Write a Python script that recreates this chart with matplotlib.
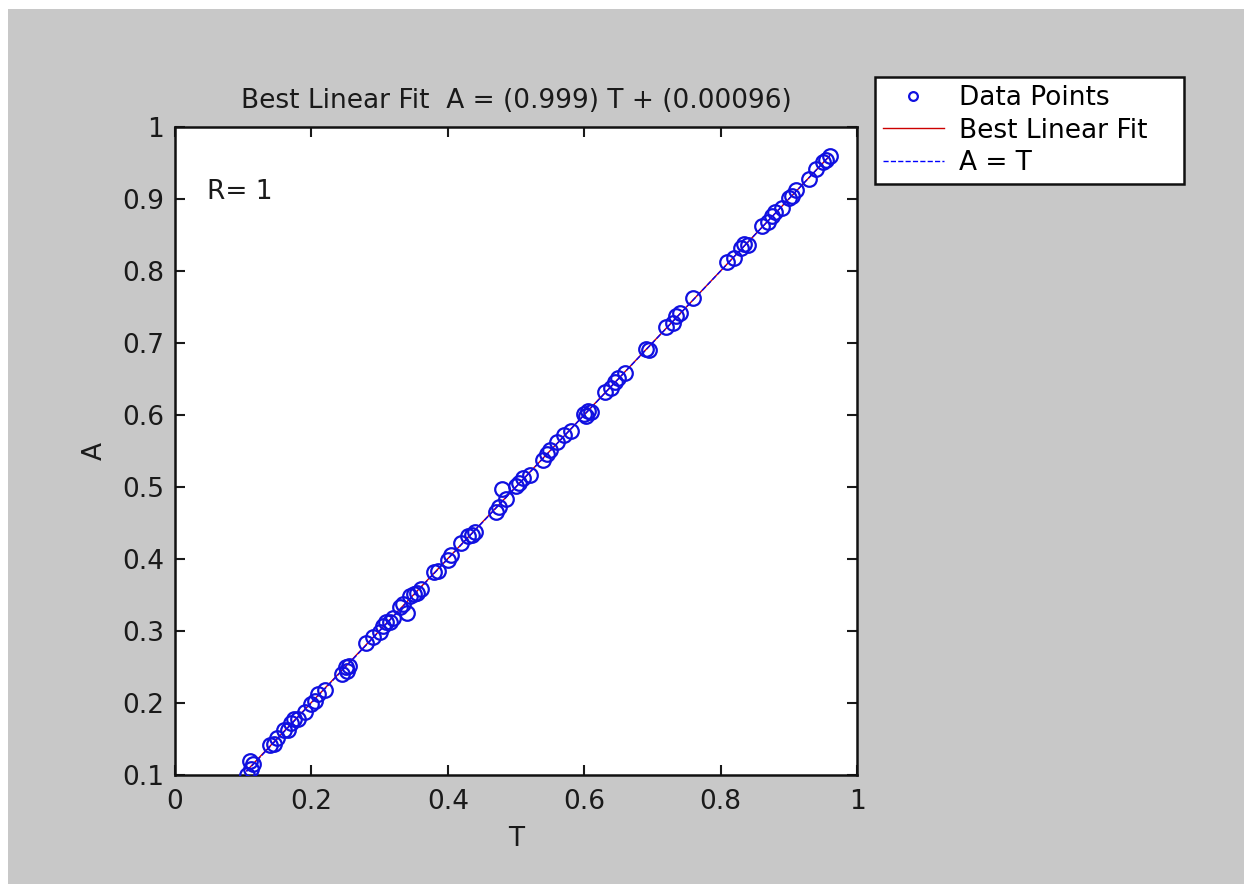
import matplotlib
matplotlib.use("Agg")
import matplotlib.pyplot as plt
from matplotlib.patches import Rectangle
import numpy as np

plt.rcParams['font.family'] = ['DejaVu Sans']

T = [0.105, 0.110, 0.112, 0.115, 0.140, 0.145, 0.150, 0.160, 0.165, 0.170,
     0.175, 0.180, 0.190, 0.200, 0.205, 0.210, 0.220, 0.245, 0.250, 0.252,
     0.255, 0.280, 0.290, 0.300, 0.305, 0.310, 0.315, 0.320, 0.330, 0.335,
     0.340, 0.345, 0.350, 0.355, 0.360, 0.380, 0.385, 0.400, 0.405, 0.420,
     0.430, 0.435, 0.440, 0.470, 0.475, 0.480, 0.485, 0.500, 0.505, 0.510,
     0.520, 0.540, 0.545, 0.550, 0.560, 0.570, 0.580, 0.600, 0.602, 0.605,
     0.610, 0.630, 0.640, 0.645, 0.650, 0.660, 0.690, 0.695, 0.720, 0.730,
     0.735, 0.740, 0.760, 0.810, 0.820, 0.830, 0.835, 0.840, 0.860, 0.870,
     0.875, 0.880, 0.890, 0.900, 0.905, 0.910, 0.930, 0.940, 0.950, 0.955,
     0.960]
A = [0.100, 0.120, 0.108, 0.115, 0.142, 0.143, 0.152, 0.162, 0.163, 0.172,
     0.178, 0.178, 0.188, 0.198, 0.203, 0.212, 0.218, 0.240, 0.250, 0.245,
     0.252, 0.283, 0.292, 0.298, 0.307, 0.312, 0.313, 0.318, 0.333, 0.338,
     0.325, 0.348, 0.352, 0.353, 0.358, 0.382, 0.384, 0.398, 0.405, 0.422,
     0.432, 0.434, 0.438, 0.465, 0.472, 0.497, 0.483, 0.502, 0.506, 0.512,
     0.516, 0.538, 0.546, 0.552, 0.562, 0.572, 0.578, 0.602, 0.598, 0.606,
     0.604, 0.632, 0.638, 0.646, 0.652, 0.658, 0.692, 0.690, 0.722, 0.728,
     0.737, 0.742, 0.762, 0.812, 0.818, 0.832, 0.838, 0.836, 0.862, 0.868,
     0.876, 0.882, 0.888, 0.902, 0.904, 0.912, 0.928, 0.942, 0.952, 0.954,
     0.960]
slope = 0.999
intercept = 0.00096
title_text = "Best Linear Fit  A = (0.999) T + (0.00096)"
r_text = "R= 1"

W, H = 1252, 884
FS = 19
TXT = '#1a1a1a'
fig = plt.figure(figsize=(W / 100, H / 100), dpi=100, facecolor='white')
fig.patches.append(Rectangle((8 / W, 0), (1244 - 8) / W, (H - 9) / H,
                             transform=fig.transFigure, facecolor='#c8c8c8',
                             edgecolor='none', zorder=-10))

ax = fig.add_axes([175 / W, 1 - 775 / H, (857 - 175) / W, (775 - 127) / H])
ax.set_facecolor('white')

Tarr = np.array(T)
tr = np.array([Tarr.min(), Tarr.max()])
ax.plot(Tarr, A, 'o', markersize=10.5, markerfacecolor='none',
        markeredgecolor='#1010e0', markeredgewidth=1.6, label='Data Points', zorder=3)
ax.plot(tr, slope * tr + intercept, '-', color='#cc0000', lw=1, label='Best Linear Fit', zorder=2)
ax.plot(tr, tr, '--', color='#0000ff', lw=1, label='A = T', zorder=2)

ax.set_xlim(0, 1)
ax.set_ylim(0.1, 1)
ax.set_xticks([0, 0.2, 0.4, 0.6, 0.8, 1])
ax.set_xticklabels(['0', '0.2', '0.4', '0.6', '0.8', '1'])
ax.set_yticks([0.1, 0.2, 0.3, 0.4, 0.5, 0.6, 0.7, 0.8, 0.9, 1])
ax.set_yticklabels(['0.1', '0.2', '0.3', '0.4', '0.5', '0.6', '0.7', '0.8', '0.9', '1'])
ax.tick_params(direction='in', top=True, right=True, length=7, width=1.5,
               labelsize=FS, colors=TXT)
ax.tick_params(axis='x', pad=10)
ax.tick_params(axis='y', pad=8)
for s in ax.spines.values():
    s.set_linewidth(1.8)
    s.set_color('#111111')

ax.set_title(title_text, fontsize=FS, pad=14, color=TXT)
ax.set_xlabel('T', fontsize=FS, labelpad=8, color=TXT)
ax.set_ylabel('A', fontsize=FS, labelpad=10, color=TXT)
ax.text(0.047, 0.91, r_text, fontsize=FS, va='center', ha='left', color=TXT)

leg = fig.legend(loc='upper left',
                 bbox_to_anchor=(875 / W, 1 - 185 / H, (1184 - 875) / W, 108 / H),
                 bbox_transform=fig.transFigure, mode='expand', fontsize=FS,
                 frameon=True, fancybox=False, edgecolor='#111111', framealpha=1,
                 borderpad=0.3, labelspacing=0.25, handlelength=2.3,
                 handletextpad=0.6, borderaxespad=0, markerscale=0.6)
leg.get_frame().set_linewidth(1.8)

fig.savefig('out.png', dpi=100, facecolor=fig.get_facecolor())
